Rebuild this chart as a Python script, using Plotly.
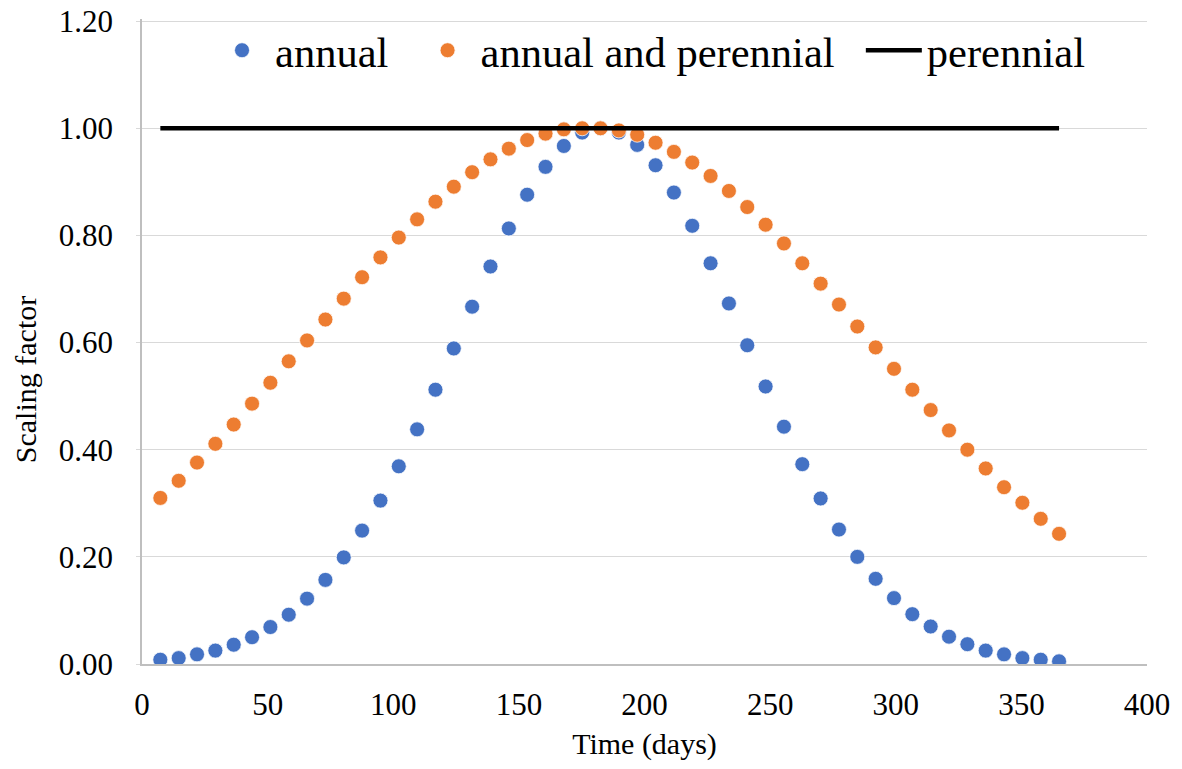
import plotly.graph_objects as go

days = [7.3, 14.6, 21.9, 29.2, 36.5, 43.8, 51.1, 58.4, 65.7, 73.0,
        80.3, 87.6, 94.9, 102.2, 109.5, 116.8, 124.1, 131.4, 138.7, 146.0,
        153.3, 160.6, 167.9, 175.2, 182.5, 189.8, 197.1, 204.4, 211.7, 219.0,
        226.3, 233.6, 240.9, 248.2, 255.5, 262.8, 270.1, 277.4, 284.7, 292.0,
        299.3, 306.6, 313.9, 321.2, 328.5, 335.8, 343.1, 350.4, 357.7, 365.0]

annual = [0.008, 0.011, 0.018, 0.025, 0.036, 0.050, 0.069, 0.092, 0.122, 0.157,
          0.199, 0.249, 0.305, 0.369, 0.438, 0.512, 0.589, 0.667, 0.742, 0.813,
          0.876, 0.928, 0.967, 0.992, 1.000, 0.992, 0.969, 0.931, 0.880, 0.818,
          0.748, 0.673, 0.595, 0.518, 0.443, 0.373, 0.309, 0.251, 0.200, 0.159,
          0.123, 0.093, 0.070, 0.051, 0.037, 0.025, 0.018, 0.011, 0.008, 0.005]

annual_and_perennial = [0.310, 0.342, 0.376, 0.411, 0.447, 0.486, 0.525, 0.565, 0.604, 0.643,
                        0.682, 0.722, 0.759, 0.796, 0.830, 0.863, 0.891, 0.918, 0.942, 0.962,
                        0.978, 0.990, 0.998, 1.000, 1.000, 0.996, 0.988, 0.973, 0.956, 0.936,
                        0.911, 0.883, 0.853, 0.820, 0.785, 0.748, 0.710, 0.671, 0.630, 0.591,
                        0.551, 0.512, 0.474, 0.436, 0.400, 0.365, 0.330, 0.301, 0.271, 0.243]

perennial = [1.0] * len(days)

series_names = ["annual", "annual and perennial", "perennial"]

y_ticks = [0.0, 0.2, 0.4, 0.6, 0.8, 1.0, 1.2]
y_tick_labels = ["0.00", "0.20", "0.40", "0.60", "0.80", "1.00", "1.20"]
x_ticks = [0, 50, 100, 150, 200, 250, 300, 350, 400]

FONT = "Liberation Serif"
NB = "\u00a0"

fig = go.Figure()
fig.add_trace(go.Scatter(
    x=days, y=annual, mode="markers", name=series_names[0] + NB * 2,
    marker=dict(color="#4472C4", size=15, line=dict(color="white", width=0.75))))
fig.add_trace(go.Scatter(
    x=days, y=annual_and_perennial, mode="markers", name=series_names[1] + NB * 2,
    marker=dict(color="#ED7D31", size=15, line=dict(color="white", width=0.75))))
fig.add_trace(go.Scatter(
    x=days, y=perennial, mode="lines", name=series_names[2],
    line=dict(color="black", width=4.5)))

fig.update_layout(
    width=1182, height=769,
    margin=dict(l=142, r=35, t=19, b=105, autoexpand=False),
    paper_bgcolor="white", plot_bgcolor="white",
    font=dict(family=FONT, color="black", size=30),
    showlegend=True,
    legend=dict(orientation="h", x=0.505, xanchor="center", y=0.951, yanchor="middle",
                font=dict(size=42.5, family=FONT), bgcolor="rgba(0,0,0,0)",
                itemwidth=56, traceorder="normal"),
    xaxis=dict(range=[0, 400], tickvals=x_ticks, showgrid=False,
               showline=True, linecolor="#BFBFBF", linewidth=1.5,
               ticks="", ticklabelstandoff=12,
               tickfont=dict(size=31, family=FONT),
               title=dict(text="Time (days)", font=dict(size=30, family=FONT), standoff=12),
               zeroline=False),
    yaxis=dict(range=[0, 1.204], tickvals=y_ticks, ticktext=y_tick_labels,
               showgrid=True, gridcolor="#D9D9D9", gridwidth=1,
               showline=True, linecolor="#BFBFBF", linewidth=1.5,
               ticks="outside", ticklen=4, tickcolor="#D9D9D9",
               ticklabelstandoff=17,
               tickfont=dict(size=31, family=FONT),
               zeroline=False),
    annotations=[dict(text="Scaling factor", xref="paper", yref="paper",
                      x=-0.1164, y=0.44, xanchor="center", yanchor="middle",
                      textangle=-90, showarrow=False,
                      font=dict(size=30, family=FONT, color="black"))],
)

# remove the default 8px page margin so the figure fills the window exactly
fig.write_html("out.html", config={"displayModeBar": False},
               post_script="document.body.style.margin='0';")
